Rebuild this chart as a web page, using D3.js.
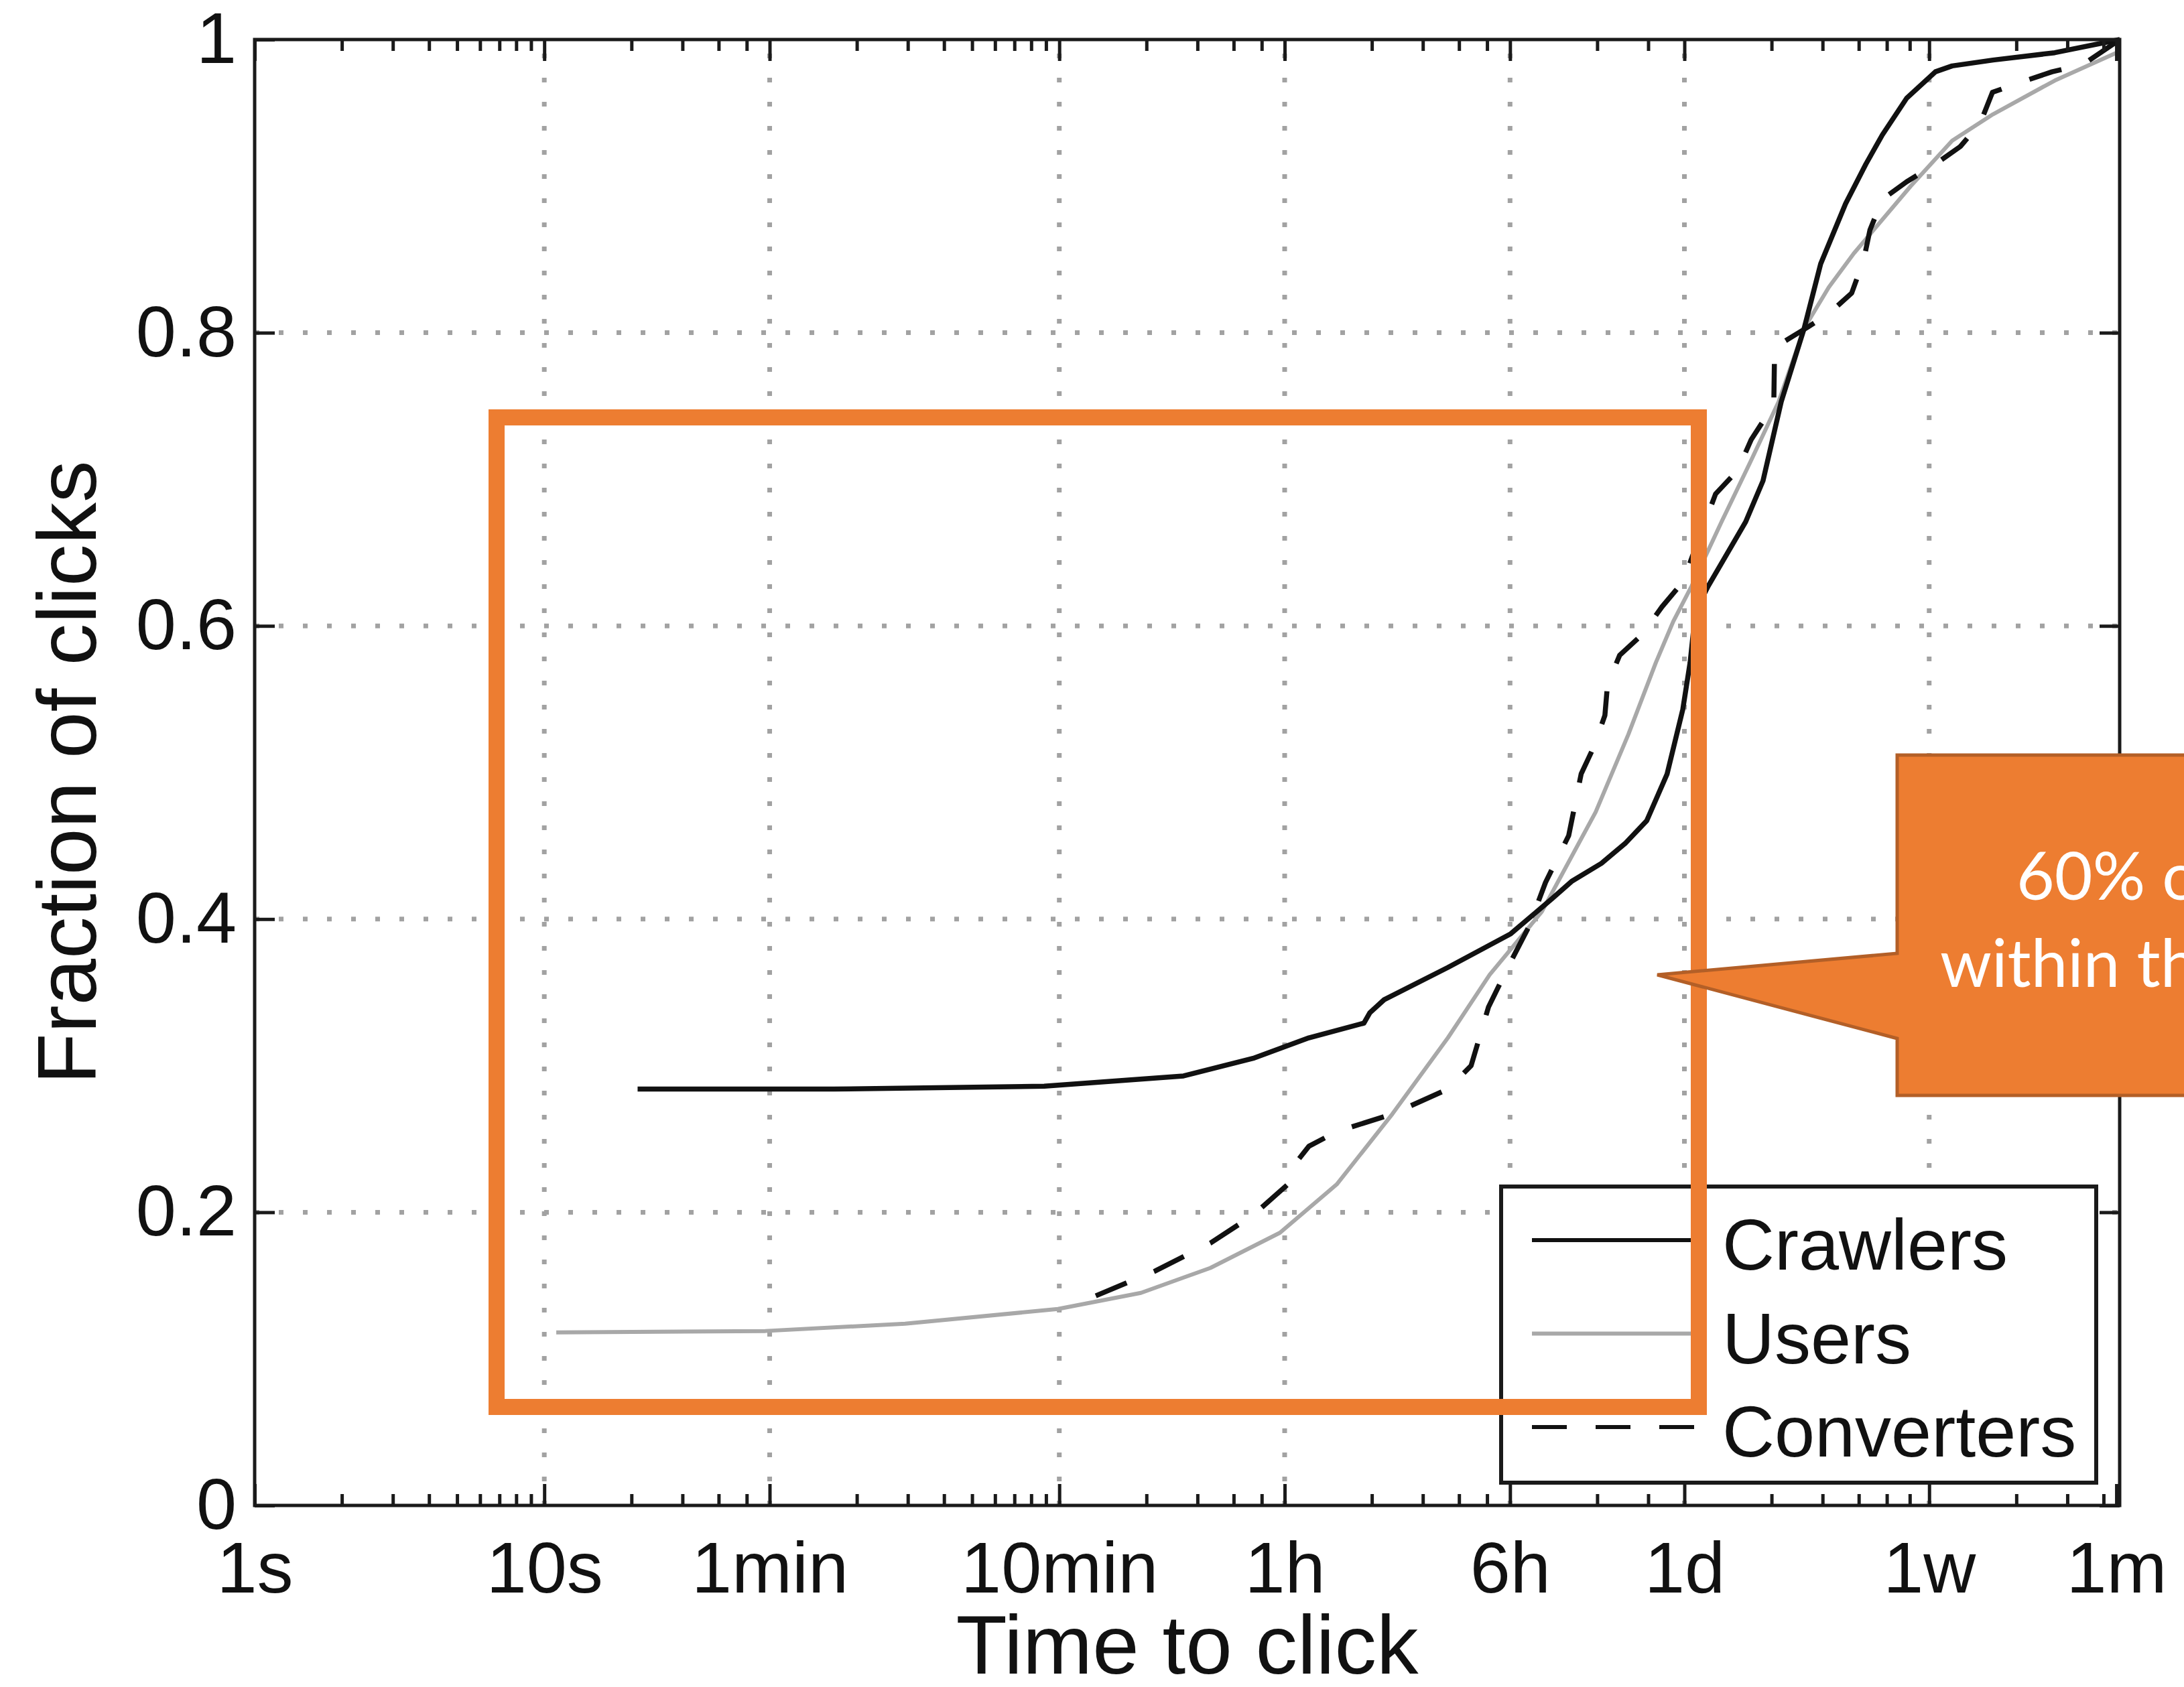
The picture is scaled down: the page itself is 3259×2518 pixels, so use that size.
<!DOCTYPE html>
<html>
<head>
<meta charset="utf-8">
<script src="https://cdn.jsdelivr.net/npm/d3@7"></script>
<style>
  html, body { margin: 0; padding: 0; background: #fff; }
  svg { display: block; }
</style>
</head>
<body>
<svg id="chart" width="3259" height="2518"></svg>
<script>
// ---- data: time to click (seconds) vs cumulative fraction of clicks ----
const crawlerTimes = [21, 100, 532, 1611, 2800, 4365, 6760, 7080, 7940, 13180, 21730, 30200, 35400, 44670, 54200, 64000, 75300, 85300, 90400, 94400, 104300, 140600, 161400, 186600, 223900, 255300, 311200, 365600, 416900, 505800, 635300, 726100, 1004600, 1640600, 2754000];
const crawlerFrac  = [0.284, 0.284, 0.286, 0.293, 0.305, 0.319, 0.329, 0.336, 0.345, 0.367, 0.390, 0.414, 0.426, 0.438, 0.452, 0.467, 0.499, 0.543, 0.575, 0.610, 0.627, 0.671, 0.699, 0.753, 0.803, 0.847, 0.888, 0.915, 0.935, 0.960, 0.978, 0.982, 0.986, 0.991, 1.0];

const userTimes = [11, 58, 176, 594, 1148, 1995, 3467, 5445, 8472, 13180, 18370, 27800, 42660, 55340, 68870, 79070, 91410, 116100, 146900, 182800, 223900, 272300, 331900, 522400, 726100, 1004600, 1640600, 2754000];
const userFrac  = [0.118, 0.119, 0.124, 0.134, 0.145, 0.162, 0.186, 0.219, 0.267, 0.319, 0.362, 0.405, 0.473, 0.526, 0.575, 0.603, 0.627, 0.671, 0.713, 0.753, 0.803, 0.831, 0.854, 0.900, 0.931, 0.949, 0.972, 0.992];

const converterTimes = [802, 1288, 1995, 2800, 3690, 3981, 4365, 5445, 8472, 13180, 15850, 18200, 21730, 25120, 28640, 34440, 38020, 42170, 45920, 46880, 51640, 61660, 72280, 85310, 110700, 131800, 146900, 169400, 175800, 177000, 231200, 272300, 326600, 359700, 377600, 416900, 505800, 635300, 774500, 907800, 1000000, 1259000, 1607000, 2056000, 2754000];
const converterFrac  = [0.143, 0.160, 0.179, 0.198, 0.219, 0.235, 0.245, 0.255, 0.267, 0.284, 0.300, 0.340, 0.371, 0.395, 0.425, 0.457, 0.499, 0.518, 0.539, 0.560, 0.580, 0.594, 0.613, 0.630, 0.690, 0.706, 0.727, 0.746, 0.750, 0.790, 0.804, 0.813, 0.827, 0.850, 0.870, 0.891, 0.903, 0.915, 0.927, 0.943, 0.964, 0.971, 0.978, 0.983, 1.0];

// axis ticks
const xTickValues = [1, 10, 60, 600, 3600, 21600, 86400, 604800, 2678400];
const xTickLabels = ["1s", "10s", "1min", "10min", "1h", "6h", "1d", "1w", "1m"];
const xMinorTicks = [2, 3, 4, 5, 6, 7, 8, 9, 20, 30, 40, 50,
  120, 180, 240, 300, 360, 420, 480, 540, 1200, 1800, 2400, 3000,
  7200, 10800, 14400, 18000, 43200, 64800,
  172800, 259200, 345600, 432000, 518400, 1209600, 1814400, 2419200];
const xGridValues = [10, 60, 600, 3600, 21600, 86400, 604800];
const yTickValues = [0, 0.2, 0.4, 0.6, 0.8, 1];
const yTickLabels = ["0", "0.2", "0.4", "0.6", "0.8", "1"];
const yGridValues = [0.2, 0.4, 0.6, 0.8];

const seriesNames = ["Crawlers", "Users", "Converters"];
const calloutLines = ["60% of clicks", "within the first day"];

// ---- layout ----
const svg = d3.select("#chart");
const plot = { left: 380, right: 3163, top: 59, bottom: 2247 };
const axisFont = "'Liberation Sans', Arial, Helvetica, sans-serif";

const x = d3.scaleLog().domain([1, 2.75e6]).range([plot.left, plot.right]);
const y = d3.scaleLinear().domain([0, 1]).range([plot.bottom, plot.top]);

svg.append("rect").attr("width", 3259).attr("height", 2518).attr("fill", "#fff");

// dotted grid
const grid = svg.append("g").attr("stroke", "#a2a2a2").attr("stroke-width", 7)
  .attr("stroke-dasharray", "7 29");
grid.selectAll("line.vx").data(xGridValues).join("line")
  .attr("x1", d => x(d)).attr("x2", d => x(d))
  .attr("y1", plot.bottom).attr("y2", plot.top);
grid.selectAll("line.hy").data(yGridValues).join("line")
  .attr("y1", d => y(d)).attr("y2", d => y(d))
  .attr("x1", plot.left).attr("x2", plot.right);

// curves
const line = d3.line().x(d => x(d[0])).y(d => y(d[1]));
const zip = (a, b) => a.map((v, i) => [v, b[i]]);

const series = [
  { pts: zip(userTimes, userFrac), stroke: "#a8a8a8", width: 6, dash: null },
  { pts: zip(crawlerTimes, crawlerFrac), stroke: "#111", width: 7.5, dash: null },
  { pts: zip(converterTimes, converterFrac), stroke: "#111", width: 7.5, dash: "50 44" }
];
svg.append("g").selectAll("path").data(series).join("path")
  .attr("d", d => line(d.pts))
  .attr("fill", "none")
  .attr("stroke", d => d.stroke)
  .attr("stroke-width", d => d.width)
  .attr("stroke-dasharray", d => d.dash)
  .attr("stroke-linejoin", "round");

// axes (ticks point inward)
const axisColor = "#1a1a1a";
function styleAxis(g) {
  g.select(".domain").remove();
  g.selectAll(".tick line").attr("stroke", axisColor).attr("stroke-width", 5);
  g.selectAll(".tick text").attr("fill", "#111").attr("font-family", axisFont).attr("font-size", 108);
}

svg.append("g").attr("transform", `translate(0,${plot.bottom})`)
  .call(d3.axisBottom(x).tickValues(xTickValues).tickSizeInner(-32).tickSizeOuter(0).tickPadding(53)
    .tickFormat((d, i) => xTickLabels[i]))
  .call(styleAxis);
svg.append("g").attr("transform", `translate(0,${plot.bottom})`)
  .call(d3.axisBottom(x).tickValues(xMinorTicks).tickSizeInner(-17).tickSizeOuter(0).tickFormat(""))
  .call(styleAxis);
svg.append("g").attr("transform", `translate(0,${plot.top})`)
  .call(d3.axisTop(x).tickValues(xTickValues).tickSizeInner(-32).tickSizeOuter(0).tickFormat(""))
  .call(styleAxis);
svg.append("g").attr("transform", `translate(0,${plot.top})`)
  .call(d3.axisTop(x).tickValues(xMinorTicks).tickSizeInner(-17).tickSizeOuter(0).tickFormat(""))
  .call(styleAxis);
svg.append("g").attr("transform", `translate(${plot.left},0)`)
  .call(d3.axisLeft(y).tickValues(yTickValues).tickSizeInner(-30).tickSizeOuter(0).tickPadding(27)
    .tickFormat((d, i) => yTickLabels[i]))
  .call(styleAxis);
svg.append("g").attr("transform", `translate(${plot.right},0)`)
  .call(d3.axisRight(y).tickValues(yTickValues).tickSizeInner(-30).tickSizeOuter(0).tickFormat(""))
  .call(styleAxis);

// axes box
svg.append("rect")
  .attr("x", plot.left).attr("y", plot.top)
  .attr("width", plot.right - plot.left).attr("height", plot.bottom - plot.top)
  .attr("fill", "none").attr("stroke", axisColor).attr("stroke-width", 5);

// axis titles
svg.append("text").attr("x", (plot.left + plot.right) / 2).attr("y", 2498)
  .attr("text-anchor", "middle").attr("font-family", axisFont).attr("font-size", 125)
  .attr("fill", "#111").text("Time to click");
svg.append("text")
  .attr("transform", `translate(143,${(plot.top + plot.bottom) / 2}) rotate(-90)`)
  .attr("text-anchor", "middle").attr("font-family", axisFont).attr("font-size", 125)
  .attr("fill", "#111").text("Fraction of clicks");

// legend
const legend = svg.append("g");
legend.append("rect").attr("x", 2240).attr("y", 1771).attr("width", 888).attr("height", 442)
  .attr("fill", "#fff").attr("stroke", axisColor).attr("stroke-width", 6);
const legendRows = [
  { name: seriesNames[0], stroke: "#111", width: 6, dash: null },
  { name: seriesNames[1], stroke: "#a8a8a8", width: 6, dash: null },
  { name: seriesNames[2], stroke: "#111", width: 6, dash: "52 43" }
];
const legendY = d3.scalePoint().domain(seriesNames).range([1851, 2130]);
legend.selectAll("line").data(legendRows).join("line")
  .attr("x1", 2286).attr("x2", 2528)
  .attr("y1", d => legendY(d.name)).attr("y2", d => legendY(d.name))
  .attr("stroke", d => d.stroke).attr("stroke-width", d => d.width)
  .attr("stroke-dasharray", d => d.dash);
legend.selectAll("text").data(legendRows).join("text")
  .attr("x", 2570).attr("y", d => legendY(d.name) + 44)
  .attr("font-family", axisFont).attr("font-size", 108).attr("fill", "#111")
  .text(d => d.name);

// highlight frame
svg.append("rect").attr("x", 741).attr("y", 623).attr("width", 2535 - 741).attr("height", 2100 - 623)
  .attr("fill", "none").attr("stroke", "#ED7D31").attr("stroke-width", 24);

// callout
const callout = [[2831, 1127], [3400, 1127], [3400, 1635], [2831, 1635], [2831, 1550], [2473, 1455], [2831, 1423]];
svg.append("path").attr("d", d3.line()(callout) + "Z")
  .attr("fill", "#ED7D31").attr("stroke", "#B35F27").attr("stroke-width", 5).attr("stroke-linejoin", "miter");
svg.append("g").selectAll("text").data(calloutLines).join("text")
  .attr("x", (d, i) => i === 0 ? 3009 : 2895)
  .attr("y", (d, i) => 1343 + i * 130)
  .attr("font-family", "Lato, 'Open Sans', sans-serif").attr("font-size", 98).attr("fill", "#fff")
  .text(d => d);
</script>
</body>
</html>
